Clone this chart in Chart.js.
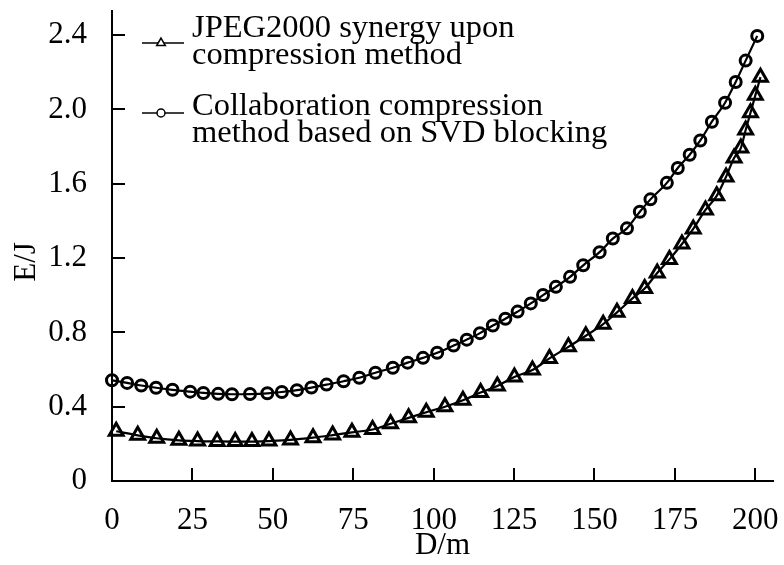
<!DOCTYPE html>
<html>
<head>
<meta charset="utf-8">
<script src="https://cdn.jsdelivr.net/npm/chart.js@4/dist/chart.umd.min.js"></script>
<style>
html,body{margin:0;padding:0;background:#fff;}
canvas{display:block;}
</style>
</head>
<body>
<canvas id="c" width="784" height="565"></canvas>
<script>
// ---- data ----
const triX = [1.3, 8.0, 13.9, 20.8, 26.6, 32.7, 38.3, 43.5, 48.8, 55.5, 62.5, 68.6, 74.6, 81.0, 86.6, 92.2, 97.7, 103.5, 109.1, 114.6, 119.8, 125.1, 130.7, 136.0, 141.9, 147.3, 152.7, 157.0, 161.8, 165.6, 169.5, 173.3, 177.2, 180.7, 184.5, 188.0, 190.9, 193.4, 195.5, 197.0, 198.5, 200.0, 201.6];
const triY = [0.268, 0.246, 0.230, 0.219, 0.215, 0.213, 0.212, 0.212, 0.215, 0.221, 0.233, 0.247, 0.262, 0.277, 0.308, 0.340, 0.370, 0.400, 0.435, 0.476, 0.512, 0.560, 0.597, 0.660, 0.722, 0.782, 0.844, 0.908, 0.983, 1.036, 1.120, 1.193, 1.276, 1.357, 1.459, 1.535, 1.637, 1.739, 1.792, 1.889, 1.982, 2.076, 2.174];

const circX = [0, 4.7, 9.1, 13.7, 18.8, 24.3, 28.4, 33.0, 37.3, 42.9, 48.3, 52.8, 57.5, 62.0, 66.7, 72.0, 76.9, 81.9, 87.3, 91.9, 96.7, 101.1, 106.2, 110.3, 114.4, 118.4, 122.3, 126.1, 130.2, 134.0, 138.0, 142.4, 146.5, 151.6, 155.7, 160.1, 164.1, 167.4, 172.5, 175.9, 179.6, 182.9, 186.5, 190.6, 193.9, 197.0, 200.6];
const circY = [0.542, 0.528, 0.514, 0.502, 0.491, 0.481, 0.474, 0.469, 0.467, 0.468, 0.472, 0.479, 0.489, 0.503, 0.519, 0.537, 0.556, 0.583, 0.610, 0.637, 0.663, 0.690, 0.729, 0.761, 0.796, 0.837, 0.873, 0.912, 0.956, 1.001, 1.045, 1.099, 1.161, 1.232, 1.305, 1.360, 1.449, 1.516, 1.605, 1.685, 1.756, 1.833, 1.934, 2.036, 2.148, 2.263, 2.396];

const xTicks = [0, 25, 50, 75, 100, 125, 150, 175, 200];
const yTicks = [0, 0.4, 0.8, 1.2, 1.6, 2.0, 2.4];
const yTickLabels = ['0', '0.4', '0.8', '1.2', '1.6', '2.0', '2.4'];
const seriesNames = [
  ['JPEG2000 synergy upon', 'compression method'],
  ['Collaboration compression', 'method based on SVD blocking']
];
const xTitle = 'D/m';
const yTitle = 'E/J';

// ---- styling ----
const FONT = "'Liberation Serif','Times New Roman',serif";
const FS = 31;
const LFS = 32.5;

function toPoints(xs, ys) { return xs.map((x, i) => ({x: x, y: ys[i]})); }

function markerPath(ctx, style, x, y, r) {
  ctx.beginPath();
  if (style === 'triangle') {
    for (let k = 0; k < 3; k++) {
      const a = -Math.PI / 2 + k * 2 * Math.PI / 3;
      const px = x + Math.cos(a) * r, py = y + Math.sin(a) * r;
      if (k === 0) ctx.moveTo(px, py); else ctx.lineTo(px, py);
    }
    ctx.closePath();
  } else {
    ctx.arc(x, y, r, 0, Math.PI * 2);
  }
}

const decor = {
  id: 'decor',
  afterDraw(chart, args, opts) {
    const ctx = chart.ctx, xs = chart.scales.x, ys = chart.scales.y, a = chart.chartArea;
    ctx.save();
    ctx.strokeStyle = '#000';
    ctx.lineWidth = 2;
    // inward tick marks
    xs.ticks.forEach(t => {
      const p = Math.round(xs.getPixelForValue(t.value));
      ctx.beginPath(); ctx.moveTo(p, a.bottom); ctx.lineTo(p, a.bottom - opts.tickLen); ctx.stroke();
    });
    ys.ticks.forEach(t => {
      const p = Math.round(ys.getPixelForValue(t.value));
      ctx.beginPath(); ctx.moveTo(a.left, p); ctx.lineTo(a.left + opts.tickLen, p); ctx.stroke();
    });
    // y axis title
    ctx.fillStyle = '#000';
    ctx.font = FS + 'px ' + FONT;
    ctx.save();
    ctx.translate(opts.yTitleX, opts.yTitleY);
    ctx.rotate(-Math.PI / 2);
    ctx.textAlign = 'center';
    ctx.textBaseline = 'middle';
    ctx.fillText(yTitle, 0, 0);
    ctx.restore();
    // legend
    chart.data.datasets.forEach((ds, i) => {
      const L = opts.legend[i];
      ctx.lineWidth = 1.5;
      ctx.beginPath(); ctx.moveTo(opts.lx0, L.sy); ctx.lineTo(opts.lx1, L.sy); ctx.stroke();
      markerPath(ctx, ds.pointStyle, opts.lmx, L.sy, L.r);
      ctx.fillStyle = '#fff'; ctx.fill();
      ctx.stroke();
      ctx.fillStyle = '#000';
      ctx.textAlign = 'left';
      ctx.textBaseline = 'alphabetic';
      ctx.font = LFS + 'px ' + FONT;
      seriesNames[i].forEach((line, j) => {
        ctx.fillText(line, opts.tx, L.b0 + j * opts.lineGap);
      });
    });
    ctx.restore();
  }
};

new Chart(document.getElementById('c'), {
  type: 'line',
  data: {
    datasets: [
      {
        label: seriesNames[0].join(' '),
        data: toPoints(triX, triY),
        pointStyle: 'triangle',
        borderColor: '#000',
        borderWidth: 2.2,
        pointRadius: 8,
        pointBorderWidth: 3,
        pointBorderColor: '#000',
        pointBackgroundColor: 'rgba(0,0,0,0)',
        cubicInterpolationMode: 'monotone',
        fill: false,
        clip: false
      },
      {
        label: seriesNames[1].join(' '),
        data: toPoints(circX, circY),
        pointStyle: 'circle',
        borderColor: '#000',
        borderWidth: 2.2,
        pointRadius: 5.5,
        pointBorderWidth: 3,
        pointBorderColor: '#000',
        pointBackgroundColor: 'rgba(0,0,0,0)',
        cubicInterpolationMode: 'monotone',
        fill: false,
        clip: false
      }
    ]
  },
  options: {
    responsive: false,
    animation: false,
    devicePixelRatio: 1,
    layout: {padding: {left: 0, right: 0, top: 7, bottom: 0}},
    plugins: {
      legend: {display: false},
      tooltip: {enabled: false},
      decor: {
        tickLen: 13,
        yTitleX: 27, yTitleY: 262,
        lx0: 142, lx1: 184, lmx: 161, tx: 192, lineGap: 26.5,
        legend: [
          {sy: 43, b0: 37, r: 5},
          {sy: 113, b0: 115, r: 4}
        ]
      }
    },
    scales: {
      x: {
        type: 'linear',
        position: 'bottom',
        min: 0,
        max: 205.5,
        afterBuildTicks: s => { s.ticks = xTicks.map(v => ({value: v})); },
        afterFit: s => { s.height = 84; s.paddingLeft = 0; s.paddingRight = 0; },
        grid: {display: false, drawTicks: false},
        border: {display: true, color: '#000', width: 2},
        ticks: {
          color: '#000',
          font: {family: FONT, size: FS},
          padding: 21,
          maxRotation: 0,
          autoSkip: false,
          callback: (v) => String(v)
        },
        title: {
          display: true,
          text: xTitle,
          color: '#000',
          font: {family: FONT, size: FS},
          padding: {top: 0, bottom: 1}
        }
      },
      y: {
        type: 'linear',
        min: 0,
        max: 2.53,
        afterBuildTicks: s => { s.ticks = yTicks.map(v => ({value: v})); },
        afterFit: s => { s.width = 112; s.paddingTop = 0; s.paddingBottom = 0; },
        grid: {display: false, drawTicks: false},
        border: {display: true, color: '#000', width: 2},
        ticks: {
          color: '#000',
          font: {family: FONT, size: FS},
          padding: 25,
          autoSkip: false,
          callback: (v, i) => yTickLabels[i]
        },
        title: {display: false}
      }
    }
  },
  plugins: [decor]
});
</script>
</body>
</html>
